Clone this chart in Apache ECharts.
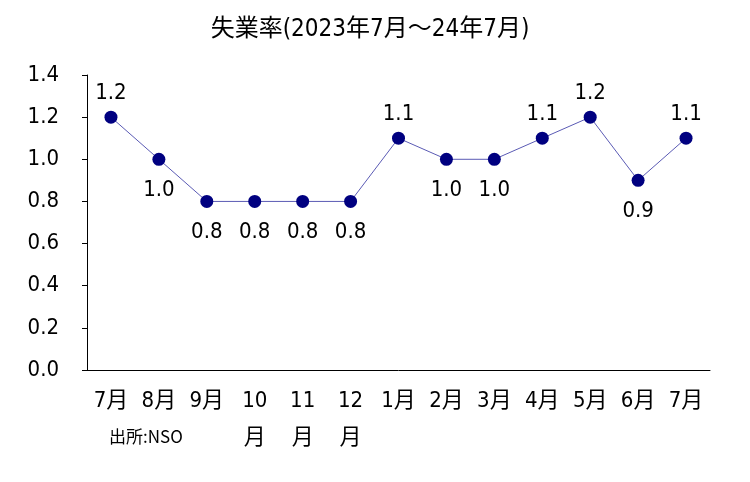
<!DOCTYPE html>
<html><head><meta charset="utf-8">
<script src="https://cdn.jsdelivr.net/npm/echarts@6/dist/echarts.min.js"></script>
<style>html,body{margin:0;padding:0;background:#fff}#c{width:750px;height:482px}</style>
</head><body><div id="c"></div>
<script>
var categories = ["7月","8月","9月","10月","11月","12月","1月","2月","3月","4月","5月","6月","7月"];
var rates = [1.2, 1.0, 0.8, 0.8, 0.8, 0.8, 1.1, 1.0, 1.0, 1.1, 1.2, 0.9, 1.1];
var labelPos = ["top","bottom","bottom","bottom","bottom","bottom","top","bottom","bottom","top","top","bottom","top"];
var yTicks = [0, 0.2, 0.4, 0.6, 0.8, 1.0, 1.2, 1.4];

var FONT = '"DejaVu Sans Condensed","Noto Sans CJK JP",sans-serif';
var chart = echarts.init(document.getElementById('c'));
chart.setOption({
  animation: false,
  title: {
    text: '失業率(2023年7月～24年7月)',
    left: 365, top: 13, textAlign: 'center',
    textStyle: {fontFamily: FONT, fontSize: 24, fontWeight: 'normal', color: '#000'}
  },
  graphic: [{
    type: 'text', left: 109, top: 428,
    style: {text: '出所:NSO', font: '17px "Noto Sans CJK JP",sans-serif', fill: '#000'}
  }],
  grid: {left: 87, right: 40, top: 75, bottom: 112},
  xAxis: {
    type: 'category',
    data: categories,
    boundaryGap: true,
    axisLine: {lineStyle: {color: '#000', width: 1}},
    axisTick: {inside: true, length: 6, lineStyle: {color: '#000'}},
    axisLabel: {
      fontFamily: FONT, fontSize: 22, color: '#000', margin: 13, lineHeight: 37,
      interval: 0,
      formatter: function (v) { return v.length > 2 ? v.slice(0, v.length - 1) + '\n' + v.slice(-1) : v; }
    },
    splitLine: {show: false}
  },
  yAxis: {
    type: 'value',
    min: yTicks[0], max: yTicks[yTicks.length - 1], interval: 0.2,
    axisLine: {show: true, lineStyle: {color: '#000', width: 1}},
    axisTick: {show: true, length: 5, lineStyle: {color: '#000'}},
    axisLabel: {
      fontFamily: FONT, fontSize: 22, color: '#000', margin: 28,
      formatter: function (v) { return v.toFixed(1); }
    },
    splitLine: {show: false}
  },
  series: [{
    type: 'line',
    data: rates.map(function (v, i) {
      return {value: v, label: {position: labelPos[i], distance: labelPos[i] === 'top' ? 6 : 13}};
    }),
    symbol: 'circle', symbolSize: 13,
    itemStyle: {color: '#000080'},
    lineStyle: {color: '#5a5ab4', width: 1},
    label: {
      show: true, fontFamily: FONT, fontSize: 22, color: '#000',
      formatter: function (p) { return p.value.toFixed(1); }
    }
  }]
});
</script></body></html>
